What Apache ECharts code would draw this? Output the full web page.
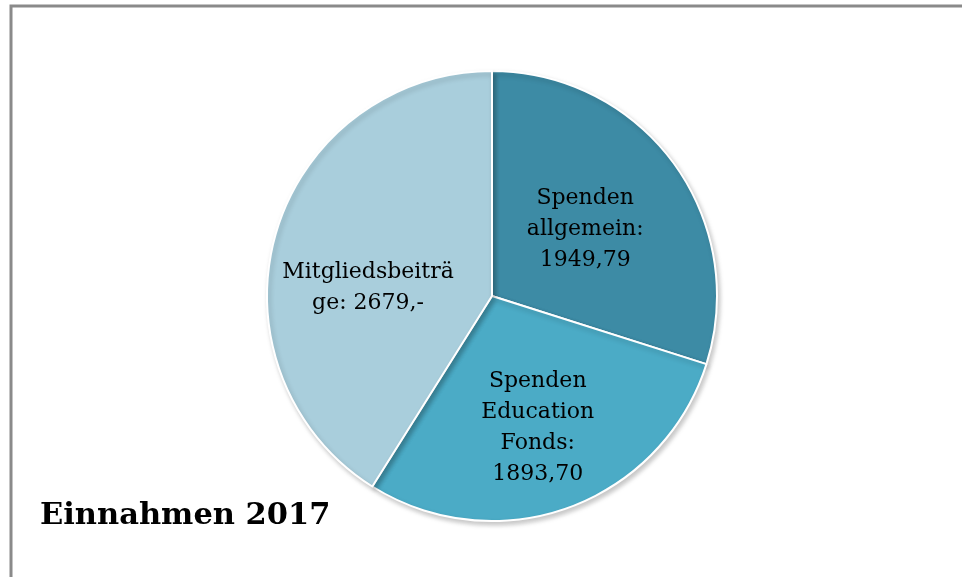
<!DOCTYPE html>
<html>
<head>
<meta charset="utf-8">
<script src="https://cdn.jsdelivr.net/npm/echarts@6/dist/echarts.min.js"></script>
<style>
  html, body { margin: 0; padding: 0; background: #fff; }
  #chart { width: 962px; height: 577px; }
</style>
</head>
<body>
<div id="chart"></div>
<script>
// Einnahmen 2017 pie
const categories = ['Spenden allgemein', 'Spenden Education Fonds', 'Mitgliedsbeiträge'];
const amounts = [1949.79, 1893.70, 2679];
const labelTexts = ['Spenden\nallgemein:\n1949,79', 'Spenden\nEducation\nFonds:\n1893,70', 'Mitgliedsbeiträ\nge: 2679,-'];
const sliceColors = ['#3d8ba5', '#4babc6', '#a9cedc'];
// nudges so labels sit where the original put them
const labelShift = [[0, 1], [6, 23], [-13, 24]];

const chartDom = document.getElementById('chart'),
    pieChart = echarts.init(chartDom);

let option;

option = {
    animation: false,
    title: {
        text: 'Einnahmen 2017',
        left: 35,
        top: 496,
        textStyle: {
            fontFamily: 'DejaVu Serif',
            fontWeight: 'bold',
            fontSize: 30.5,
            color: '#000'
        }
    },
    graphic: [
        {
            type: 'rect',
            shape: { x: 11, y: 6, width: 980, height: 600 },
            style: { fill: 'none', stroke: '#8a8a8a', lineWidth: 3 }
        }
    ],
    series: [
        {
            type: 'pie',
            center: [492, 296],
            radius: 225,
            startAngle: 90,
            clockwise: true,
            itemStyle: {
                borderColor: '#fff',
                borderWidth: 2,
                shadowBlur: 5,
                shadowOffsetX: 2,
                shadowOffsetY: 3,
                shadowColor: 'rgba(0,0,0,0.22)'
            },
            label: {
                position: 'inner',
                color: '#000',
                fontFamily: 'DejaVu Serif',
                fontSize: 22,
                lineHeight: 31,
                align: 'center',
                formatter: function (p) {
                    return labelTexts[p.dataIndex];
                }
            },
            labelLayout: function (params) {
                const s = labelShift[params.dataIndex];
                return { dx: s[0], dy: s[1] };
            },
            emphasis: { disabled: true },
            data: categories.map(function (name, i) {
                return { name: name, value: amounts[i], itemStyle: { color: sliceColors[i] } };
            })
        }
    ]
};

option && pieChart.setOption(option);
</script>
</body>
</html>
